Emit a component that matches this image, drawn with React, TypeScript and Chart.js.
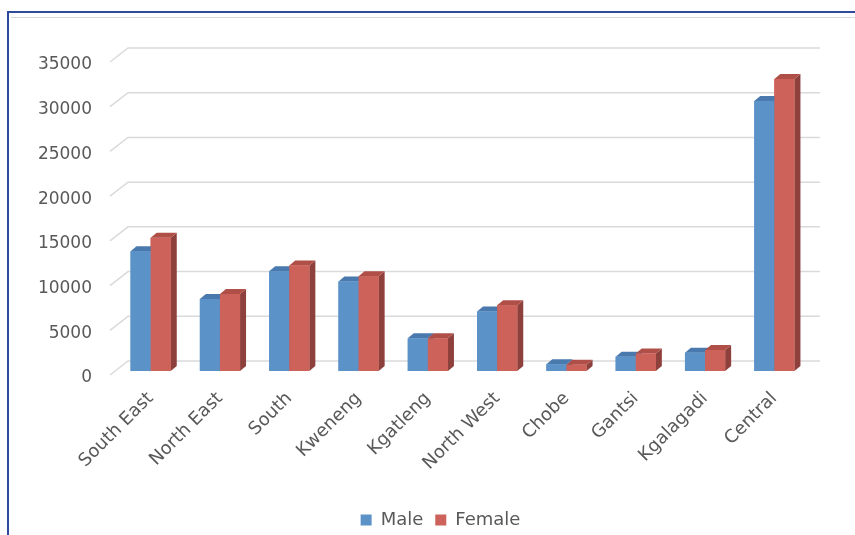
import React, { useEffect, useRef } from "react";
import { Chart, registerables } from "chart.js";

Chart.register(...registerables);

const categories = ["South East", "North East", "South", "Kweneng", "Kgatleng", "North West", "Chobe", "Gantsi", "Kgalagadi", "Central"];
const seriesNames = ["Male", "Female"];
const maleValues = [13400, 8050, 11150, 10000, 3650, 6650, 750, 1600, 2050, 30200];
const femaleValues = [14900, 8600, 11800, 10600, 3650, 7350, 700, 1950, 2350, 32650];
const yMin = 0;
const yMax = 35000;
const yStep = 5000;

const FRONT = ["#5B92C8", "#CC6259"];
const TOP = ["#4A79AE", "#B04F48"];
const SIDE = ["#3F6B9B", "#8E403C"];
const DX = 6;
const DY = 5;
const FONT = "'DejaVu Sans', sans-serif";
const TXT = "#595959";
const LEGEND_SHIFT = 36;

const gridPlugin = {
  id: "grid3d",
  afterLayout(chart: any) {
    const lg = chart.legend;
    if (lg) {
      lg.left += LEGEND_SHIFT;
      lg.right += LEGEND_SHIFT;
    }
  },
  beforeDatasetsDraw(chart: any) {
    const { ctx, chartArea } = chart;
    const ys = chart.scales.y;
    ctx.save();
    ctx.strokeStyle = "#DADADA";
    ctx.lineWidth = 1.5;
    ys.ticks.forEach((t: any) => {
      const y = ys.getPixelForValue(t.value);
      ctx.beginPath();
      ctx.moveTo(chartArea.left - 6, y + 4);
      ctx.lineTo(chartArea.left + 12, y - 10);
      ctx.lineTo(chartArea.right + 11, y - 10);
      ctx.stroke();
    });
    ctx.restore();
  },
};

const bar3dPlugin = {
  id: "bar3d",
  afterDatasetsDraw(chart: any) {
    const { ctx } = chart;
    const metas = [chart.getDatasetMeta(0), chart.getDatasetMeta(1)];
    ctx.save();
    for (let j = 0; j < categories.length; j++) {
      for (let i = 0; i < metas.length; i++) {
        const el = metas[i].data[j];
        if (!el) continue;
        const l = el.x - el.width / 2;
        const r = el.x + el.width / 2;
        const top = el.y;
        const base = el.base;
        ctx.fillStyle = SIDE[i];
        ctx.beginPath();
        ctx.moveTo(r, top);
        ctx.lineTo(r + DX, top - DY);
        ctx.lineTo(r + DX, base - DY);
        ctx.lineTo(r, base);
        ctx.closePath();
        ctx.fill();
        ctx.fillStyle = TOP[i];
        ctx.beginPath();
        ctx.moveTo(l, top);
        ctx.lineTo(l + DX, top - DY);
        ctx.lineTo(r + DX, top - DY);
        ctx.lineTo(r, top);
        ctx.closePath();
        ctx.fill();
        ctx.fillStyle = FRONT[i];
        ctx.fillRect(l, top, r - l, base - top);
      }
    }
    ctx.restore();
  },
};

export default function App() {
  const ref = useRef<HTMLCanvasElement | null>(null);
  useEffect(() => {
    if (!ref.current) return;
    const chart = new Chart(ref.current, {
      type: "bar",
      data: {
        labels: categories,
        datasets: [
          { label: seriesNames[0], data: maleValues, backgroundColor: FRONT[0], borderWidth: 0, categoryPercentage: 0.58, barPercentage: 1 },
          { label: seriesNames[1], data: femaleValues, backgroundColor: FRONT[1], borderWidth: 0, categoryPercentage: 0.58, barPercentage: 1 },
        ],
      },
      options: {
        animation: false,
        responsive: false,
        maintainAspectRatio: false,
        layout: { padding: { top: 58, right: 46, left: 0, bottom: -4 } },
        plugins: {
          tooltip: { enabled: false },
          legend: {
            position: "bottom",
            labels: {
              boxWidth: 11,
              boxHeight: 11,
              padding: 12,
              color: TXT,
              font: { family: FONT, size: 18 },
            },
          },
        },
        scales: {
          x: {
            grid: { display: false, drawTicks: false },
            border: { display: false },
            ticks: {
              minRotation: 45,
              maxRotation: 45,
              padding: 17,
              color: TXT,
              font: { family: FONT, size: 18 },
            },
            afterFit(scale: any) {
              scale.height = 128;
            },
          },
          y: {
            min: yMin,
            max: yMax,
            grid: { display: false, drawTicks: false },
            border: { display: false },
            ticks: {
              stepSize: yStep,
              padding: 24,
              labelOffset: 7,
              color: TXT,
              font: { family: FONT, size: 17 },
              callback: (v: any) => String(v),
            },
            afterFit(scale: any) {
              scale.width = 116;
            },
          },
        },
      },
      plugins: [gridPlugin, bar3dPlugin],
    });
    return () => chart.destroy();
  }, []);

  return (
    <div style={{ position: "fixed", left: 0, top: 0, width: 855, height: 535, background: "#fff", overflow: "hidden" }}>
      <canvas ref={ref} width={855} height={535} style={{ position: "absolute", left: 0, top: 0, width: 855, height: 535 }} />
      <div style={{ position: "absolute", left: 7, top: 11, width: 848, height: 2, background: "#2E4A9C" }} />
      <div style={{ position: "absolute", left: 7, top: 11, width: 2, height: 524, background: "#2E4A9C" }} />
      <div style={{ position: "absolute", left: 11, top: 17, width: 844, height: 1, background: "#D9D9D9" }} />
    </div>
  );
}
